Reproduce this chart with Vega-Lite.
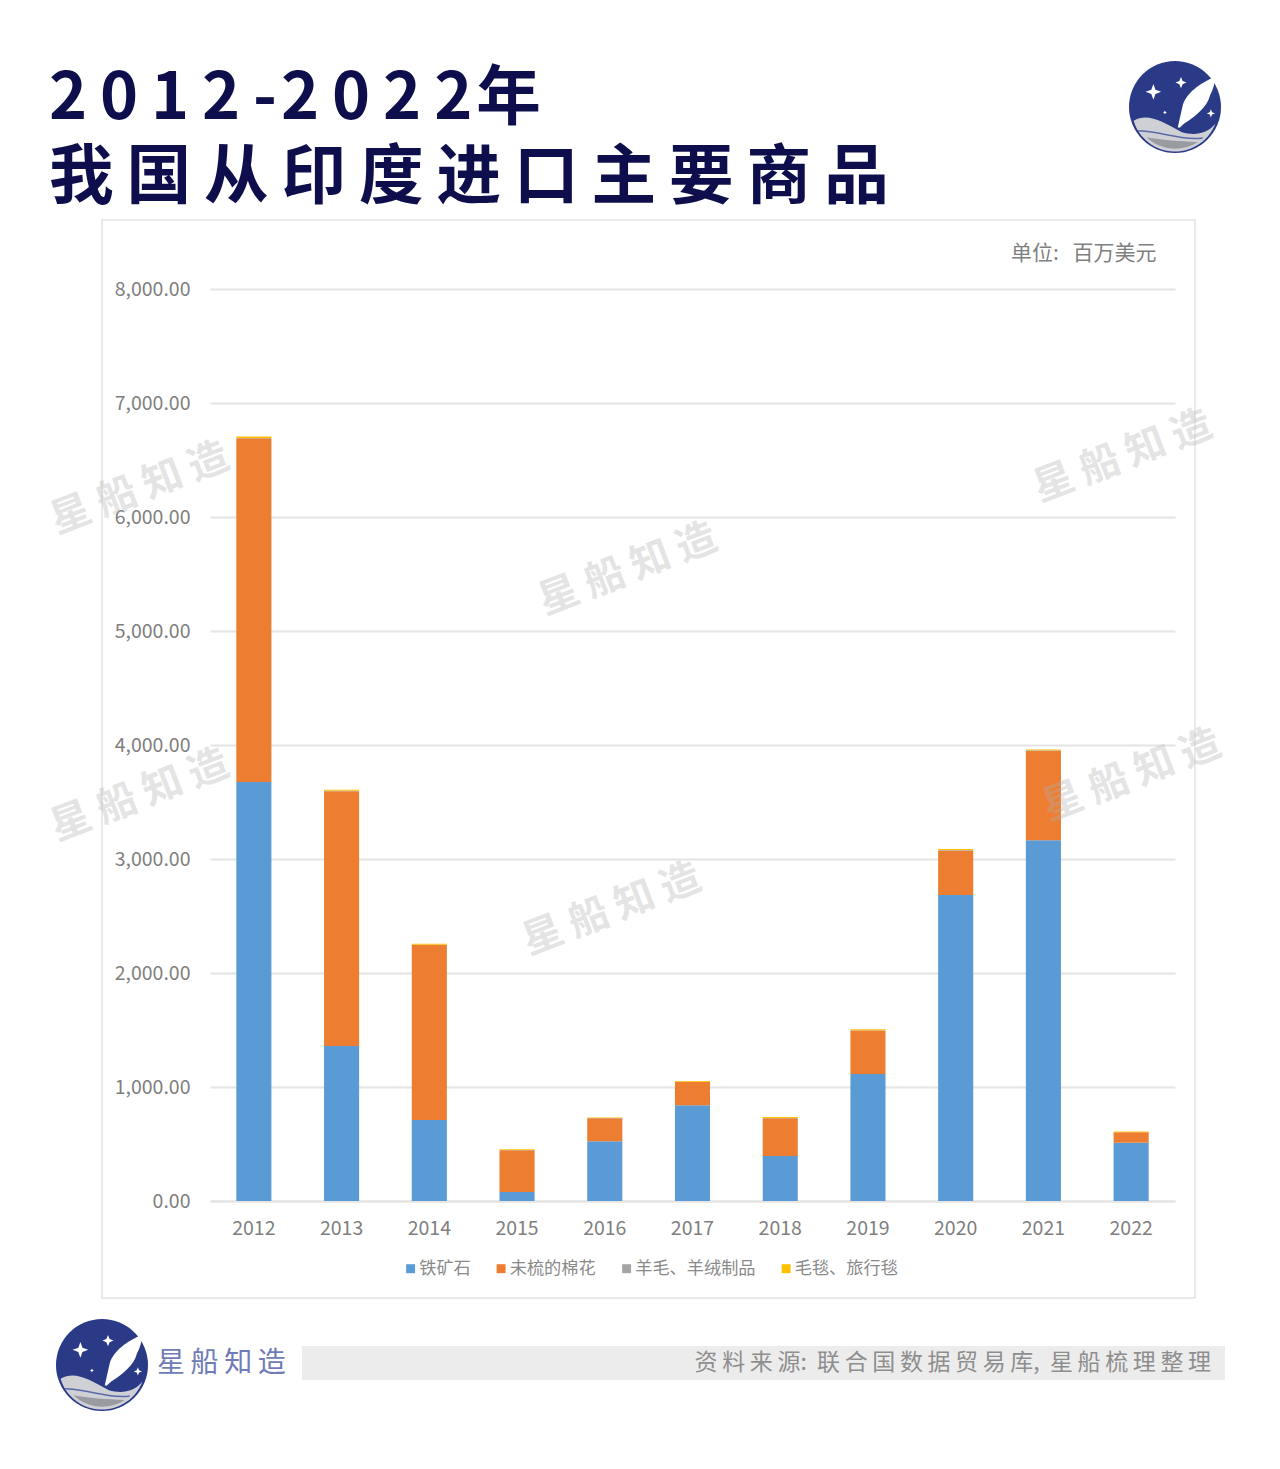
{"$schema":"https://vega.github.io/schema/vega-lite/v6.json","width":965,"height":912,"autosize":"none","padding":{"left":210,"top":289,"right":105,"bottom":268},"background":"white","config":{"view":{"stroke":null},"font":"Noto Sans CJK SC"},"title":{"text":["2\u20090\u20091\u20092\u2009-\u200a2\u20090\u20092\u20092\u200a年","我\u2009国\u2009从\u2009印\u2009度\u2009进\u2009口\u2009主\u2009要\u2009商\u2009品"],"anchor":"start","frame":"group","dx":-161,"dy":216,"offset":0,"baseline":"bottom","fontSize":64.6,"fontWeight":"bold","color":"#0e0e4c","lineHeight":79,"font":"Noto Sans CJK SC"},"layer":[{"data":{"values":[{"item":"frame"}]},"mark":{"type":"rect","fill":null,"stroke":"#e2e2e2","strokeWidth":1.5},"encoding":{"x":{"value":-108},"x2":{"value":985},"y":{"value":-69},"y2":{"value":1009}}},{"data":{"values":[{"year":"2012","goods":"铁矿石","order":1,"value":3675},{"year":"2012","goods":"未梳的棉花","order":2,"value":3015},{"year":"2012","goods":"羊毛、羊绒制品","order":3,"value":4},{"year":"2012","goods":"毛毯、旅行毯","order":4,"value":12},{"year":"2013","goods":"铁矿石","order":1,"value":1360},{"year":"2013","goods":"未梳的棉花","order":2,"value":2235},{"year":"2013","goods":"羊毛、羊绒制品","order":3,"value":3},{"year":"2013","goods":"毛毯、旅行毯","order":4,"value":10},{"year":"2014","goods":"铁矿石","order":1,"value":710},{"year":"2014","goods":"未梳的棉花","order":2,"value":1535},{"year":"2014","goods":"羊毛、羊绒制品","order":3,"value":3},{"year":"2014","goods":"毛毯、旅行毯","order":4,"value":9},{"year":"2015","goods":"铁矿石","order":1,"value":80},{"year":"2015","goods":"未梳的棉花","order":2,"value":365},{"year":"2015","goods":"羊毛、羊绒制品","order":3,"value":2},{"year":"2015","goods":"毛毯、旅行毯","order":4,"value":6},{"year":"2016","goods":"铁矿石","order":1,"value":525},{"year":"2016","goods":"未梳的棉花","order":2,"value":200},{"year":"2016","goods":"羊毛、羊绒制品","order":3,"value":2},{"year":"2016","goods":"毛毯、旅行毯","order":4,"value":6},{"year":"2017","goods":"铁矿石","order":1,"value":840},{"year":"2017","goods":"未梳的棉花","order":2,"value":205},{"year":"2017","goods":"羊毛、羊绒制品","order":3,"value":2},{"year":"2017","goods":"毛毯、旅行毯","order":4,"value":6},{"year":"2018","goods":"铁矿石","order":1,"value":395},{"year":"2018","goods":"未梳的棉花","order":2,"value":330},{"year":"2018","goods":"羊毛、羊绒制品","order":3,"value":3},{"year":"2018","goods":"毛毯、旅行毯","order":4,"value":8},{"year":"2019","goods":"铁矿石","order":1,"value":1115},{"year":"2019","goods":"未梳的棉花","order":2,"value":380},{"year":"2019","goods":"羊毛、羊绒制品","order":3,"value":3},{"year":"2019","goods":"毛毯、旅行毯","order":4,"value":8},{"year":"2020","goods":"铁矿石","order":1,"value":2685},{"year":"2020","goods":"未梳的棉花","order":2,"value":390},{"year":"2020","goods":"羊毛、羊绒制品","order":3,"value":3},{"year":"2020","goods":"毛毯、旅行毯","order":4,"value":9},{"year":"2021","goods":"铁矿石","order":1,"value":3165},{"year":"2021","goods":"未梳的棉花","order":2,"value":785},{"year":"2021","goods":"羊毛、羊绒制品","order":3,"value":3},{"year":"2021","goods":"毛毯、旅行毯","order":4,"value":8},{"year":"2022","goods":"铁矿石","order":1,"value":510},{"year":"2022","goods":"未梳的棉花","order":2,"value":92},{"year":"2022","goods":"羊毛、羊绒制品","order":3,"value":2},{"year":"2022","goods":"毛毯、旅行毯","order":4,"value":6}]},"mark":{"type":"bar"},"encoding":{"x":{"field":"year","type":"nominal","scale":{"paddingInner":0.6,"paddingOuter":0.3},"axis":{"title":null,"labelAngle":0,"labelFontSize":19.5,"labelColor":"#7f7f7f","labelPadding":18,"ticks":false,"domainColor":"#e4e4e4","domainWidth":2}},"y":{"field":"value","type":"quantitative","stack":"zero","scale":{"domain":[0,8000],"nice":false},"axis":{"title":"单位:\u00a0\u00a0\u2009百万美元","titleX":946,"titleY":-36,"titleAngle":0,"titleAlign":"right","titleBaseline":"middle","titleFontSize":21,"titleFontWeight":"normal","titleColor":"#7f7f7f","values":[0,1000,2000,3000,4000,5000,6000,7000,8000],"format":",.2f","labelFontSize":19.5,"labelColor":"#7f7f7f","labelPadding":20,"ticks":false,"domain":false,"grid":true,"gridColor":"#e4e4e4","gridWidth":2}},"color":{"field":"goods","type":"nominal","scale":{"domain":["铁矿石","未梳的棉花","羊毛、羊绒制品","毛毯、旅行毯"],"range":["#5b9bd5","#ed7d31","#a5a5a5","#ffc000"]},"legend":{"title":null,"orient":"none","direction":"horizontal","columns":4,"legendX":192,"legendY":971,"symbolType":"square","symbolSize":80,"labelFontSize":17.2,"labelColor":"#8a8a8a","labelOffset":0,"columnPadding":21.5,"symbolStrokeWidth":0}},"order":{"field":"order","type":"quantitative"}}},{"data":{"values":[{"item":"strip"}]},"mark":{"type":"rect","fill":"#ececec"},"encoding":{"x":{"value":92},"x2":{"value":1015},"y":{"value":1057},"y2":{"value":1091}}},{"data":{"values":[{"item":"source"}]},"mark":{"type":"text","text":"资\u2009料\u2009来\u2009源:\u00a0\u00a0联\u2009合\u2009国\u2009数\u2009据\u2009贸\u2009易\u2009库,\u00a0\u00a0星\u2009船\u2009梳\u2009理\u2009整\u2009理","align":"right","baseline":"middle","fontSize":23,"color":"#8e8e8e"},"encoding":{"x":{"value":1001},"y":{"value":1074}}},{"data":{"values":[{"item":"brand"}]},"mark":{"type":"text","text":"星\u2009船\u2009知\u2009造","align":"left","baseline":"middle","fontSize":28,"color":"#6f7cb8"},"encoding":{"x":{"value":-53},"y":{"value":1075}}},{"data":{"values":[{"wm":"星 船 知 造"}]},"mark":{"type":"text","text":"星 船 知 造","angle":339,"fontSize":40,"fontWeight":"bold","color":"#b0b0b0","opacity":0.33,"align":"center","baseline":"middle"},"encoding":{"x":{"value":-70},"y":{"value":200}}},{"data":{"values":[{"wm":"星 船 知 造"}]},"mark":{"type":"text","text":"星 船 知 造","angle":339,"fontSize":40,"fontWeight":"bold","color":"#b0b0b0","opacity":0.33,"align":"center","baseline":"middle"},"encoding":{"x":{"value":418},"y":{"value":281}}},{"data":{"values":[{"wm":"星 船 知 造"}]},"mark":{"type":"text","text":"星 船 知 造","angle":339,"fontSize":40,"fontWeight":"bold","color":"#b0b0b0","opacity":0.33,"align":"center","baseline":"middle"},"encoding":{"x":{"value":913},"y":{"value":168}}},{"data":{"values":[{"wm":"星 船 知 造"}]},"mark":{"type":"text","text":"星 船 知 造","angle":339,"fontSize":40,"fontWeight":"bold","color":"#b0b0b0","opacity":0.33,"align":"center","baseline":"middle"},"encoding":{"x":{"value":-70},"y":{"value":507}}},{"data":{"values":[{"wm":"星 船 知 造"}]},"mark":{"type":"text","text":"星 船 知 造","angle":339,"fontSize":40,"fontWeight":"bold","color":"#b0b0b0","opacity":0.33,"align":"center","baseline":"middle"},"encoding":{"x":{"value":402},"y":{"value":621}}},{"data":{"values":[{"wm":"星 船 知 造"}]},"mark":{"type":"text","text":"星 船 知 造","angle":339,"fontSize":40,"fontWeight":"bold","color":"#b0b0b0","opacity":0.33,"align":"center","baseline":"middle"},"encoding":{"x":{"value":922},"y":{"value":487}}},{"data":{"values":[{"part":"disc"}]},"mark":{"type":"point","shape":"circle","filled":true,"fill":"#2b3a87","size":8464,"strokeWidth":0,"opacity":1},"encoding":{"x":{"value":965},"y":{"value":-182}}},{"data":{"values":[{"part":"wave"}]},"mark":{"type":"point","filled":true,"opacity":1,"strokeWidth":0,"fill":"#cfd0d6","size":8464,"shape":"M -.9 .3 C -.6 .12 -.3 .3 .15 .55 C .4 .62 .7 .6 .88 .36 A .94 .94 0 0 1 -.9 .3 Z"},"encoding":{"x":{"value":965},"y":{"value":-182}}},{"data":{"values":[{"part":"low"}]},"mark":{"type":"point","filled":true,"opacity":1,"strokeWidth":0,"fill":"#9a9ba0","size":8464,"shape":"M -.62 .66 C -.3 .72 .1 .75 .5 .76 A .91 .91 0 0 1 -.62 .66 Z"},"encoding":{"x":{"value":965},"y":{"value":-182}}},{"data":{"values":[{"part":"line"}]},"mark":{"type":"point","filled":true,"opacity":1,"strokeWidth":0,"fill":"#5a67a8","size":8464,"shape":"M -.8 .5 C -.3 .52 .2 .72 .6 .66 L .6 .69 C .2 .75 -.3 .55 -.8 .53 Z"},"encoding":{"x":{"value":965},"y":{"value":-182}}},{"data":{"values":[{"part":"feather"}]},"mark":{"type":"point","filled":true,"opacity":1,"strokeWidth":0,"fill":"#ffffff","size":8464,"shape":"M .87 -.66 C .55 -.52 .22 -.3 .16 0 L .06 .44 L .1 .45 L .2 .36 C .45 .2 .7 0 .76 -.25 C .84 -.4 .87 -.55 .87 -.66 Z M -.47 -.5 L -.425 -.375 L -.3 -.33 L -.425 -.285 L -.47 -.16 L -.515 -.285 L -.64 -.33 L -.515 -.375 Z M .13 -.65 L .165 -.565 L .25 -.53 L .165 -.495 L .13 -.41 L .095 -.495 L .01 -.53 L .095 -.565 Z M .78 .05 L .805 .115 L .87 .14 L .805 .165 L .78 .23 L .755 .165 L .69 .14 L .755 .115 Z M -.22 .08 L -.205 .105 L -.18 .12 L -.205 .135 L -.22 .16 L -.235 .135 L -.26 .12 L -.235 .105 Z"},"encoding":{"x":{"value":965},"y":{"value":-182}}},{"data":{"values":[{"part":"disc"}]},"mark":{"type":"point","shape":"circle","filled":true,"fill":"#2b3a87","size":8464,"strokeWidth":0,"opacity":1},"encoding":{"x":{"value":-108},"y":{"value":1076}}},{"data":{"values":[{"part":"wave"}]},"mark":{"type":"point","filled":true,"opacity":1,"strokeWidth":0,"fill":"#cfd0d6","size":8464,"shape":"M -.9 .3 C -.6 .12 -.3 .3 .15 .55 C .4 .62 .7 .6 .88 .36 A .94 .94 0 0 1 -.9 .3 Z"},"encoding":{"x":{"value":-108},"y":{"value":1076}}},{"data":{"values":[{"part":"low"}]},"mark":{"type":"point","filled":true,"opacity":1,"strokeWidth":0,"fill":"#9a9ba0","size":8464,"shape":"M -.62 .66 C -.3 .72 .1 .75 .5 .76 A .91 .91 0 0 1 -.62 .66 Z"},"encoding":{"x":{"value":-108},"y":{"value":1076}}},{"data":{"values":[{"part":"line"}]},"mark":{"type":"point","filled":true,"opacity":1,"strokeWidth":0,"fill":"#5a67a8","size":8464,"shape":"M -.8 .5 C -.3 .52 .2 .72 .6 .66 L .6 .69 C .2 .75 -.3 .55 -.8 .53 Z"},"encoding":{"x":{"value":-108},"y":{"value":1076}}},{"data":{"values":[{"part":"feather"}]},"mark":{"type":"point","filled":true,"opacity":1,"strokeWidth":0,"fill":"#ffffff","size":8464,"shape":"M .87 -.66 C .55 -.52 .22 -.3 .16 0 L .06 .44 L .1 .45 L .2 .36 C .45 .2 .7 0 .76 -.25 C .84 -.4 .87 -.55 .87 -.66 Z M -.47 -.5 L -.425 -.375 L -.3 -.33 L -.425 -.285 L -.47 -.16 L -.515 -.285 L -.64 -.33 L -.515 -.375 Z M .13 -.65 L .165 -.565 L .25 -.53 L .165 -.495 L .13 -.41 L .095 -.495 L .01 -.53 L .095 -.565 Z M .78 .05 L .805 .115 L .87 .14 L .805 .165 L .78 .23 L .755 .165 L .69 .14 L .755 .115 Z M -.22 .08 L -.205 .105 L -.18 .12 L -.205 .135 L -.22 .16 L -.235 .135 L -.26 .12 L -.235 .105 Z"},"encoding":{"x":{"value":-108},"y":{"value":1076}}}],"resolve":{"scale":{"color":"independent"}}}
